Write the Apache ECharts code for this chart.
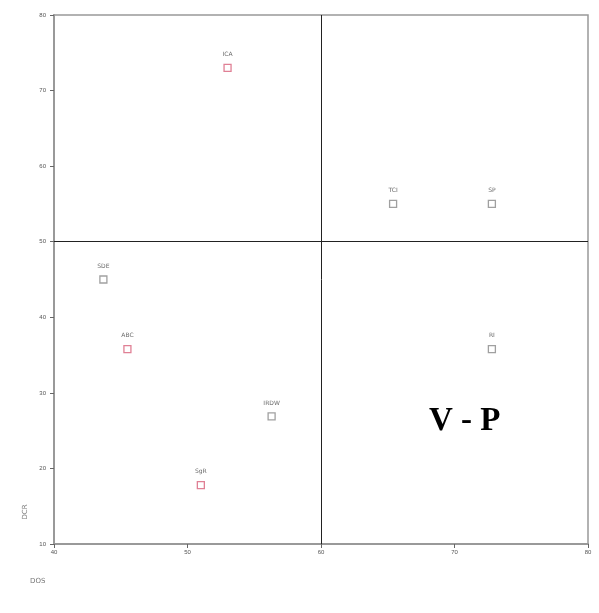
<!DOCTYPE html>
<html><head><meta charset="utf-8">
<script src="https://cdn.jsdelivr.net/npm/echarts@6/dist/echarts.min.js"></script>
<style>html,body{margin:0;padding:0;background:#fff}#c{width:599px;height:613px}</style>
</head><body><div id="c"></div>
<script>
const names = ["ICA","TCI","SP","SDE","ABC","RI","IRDW","SgR"];
const xVals = [53.0, 65.4, 72.8, 43.7, 45.5, 72.8, 56.3, 51.0];
const yVals = [73.0, 55.0, 55.0, 45.0, 35.8, 35.8, 26.9, 17.8];
const highlighted = ["ICA","ABC","SgR"];
const xTicks = [40, 50, 60, 70, 80];
const yTicks = [10, 20, 30, 40, 50, 60, 70, 80];
const xCross = 60, yCross = 50;

const chart = echarts.init(document.getElementById('c'));
const data = names.map((n,i)=>({
  value:[xVals[i], yVals[i]], name:n,
  itemStyle:{color:'#fff', borderColor: highlighted.includes(n)?'#d8607a':'#888', borderWidth:1.3}
}));
chart.setOption({
  animation:false,
  grid:{left:54, top:15, right:11, bottom:69, show:true, borderColor:'#999', borderWidth:1.5},
  xAxis:{type:'value', min:xTicks[0], max:xTicks[xTicks.length-1], interval:10,
    axisLine:{lineStyle:{color:'#999', width:2}}, axisTick:{length:4, lineStyle:{color:'#666'}},
    splitLine:{show:false}, axisLabel:{fontSize:6, color:'#555', margin:5}},
  yAxis:{type:'value', min:yTicks[0], max:yTicks[yTicks.length-1], interval:10,
    axisLine:{lineStyle:{color:'#999', width:2}}, axisTick:{length:4, lineStyle:{color:'#666'}},
    splitLine:{show:false}, axisLabel:{fontSize:6, color:'#555', margin:8}},
  series:[{
    type:'scatter', symbol:'rect', symbolSize:7, data:data,
    label:{show:true, position:'top', distance:6, formatter:p=>p.name, fontSize:6, color:'#444', fontFamily:'DejaVu Sans'},
    markLine:{silent:true, symbol:'none', label:{show:false},
      lineStyle:{color:'#222', width:1, type:'solid'},
      data:[{xAxis:xCross},{yAxis:yCross}]}
  }],
  graphic:[
    {type:'text', x:429, y:421, style:{text:'V - P', font:'bold 33px "Liberation Serif"', fill:'#000', verticalAlign:'middle'}},
    {type:'text', left:30, top:578, style:{text:'DOS', font:'7px "DejaVu Sans"', fill:'#777'}},
    {type:'text', x:25, y:512, rotation:Math.PI/2, style:{text:'DCR', font:'7px "DejaVu Sans"', fill:'#777', align:'center', verticalAlign:'middle'}}
  ]
});
</script></body></html>
